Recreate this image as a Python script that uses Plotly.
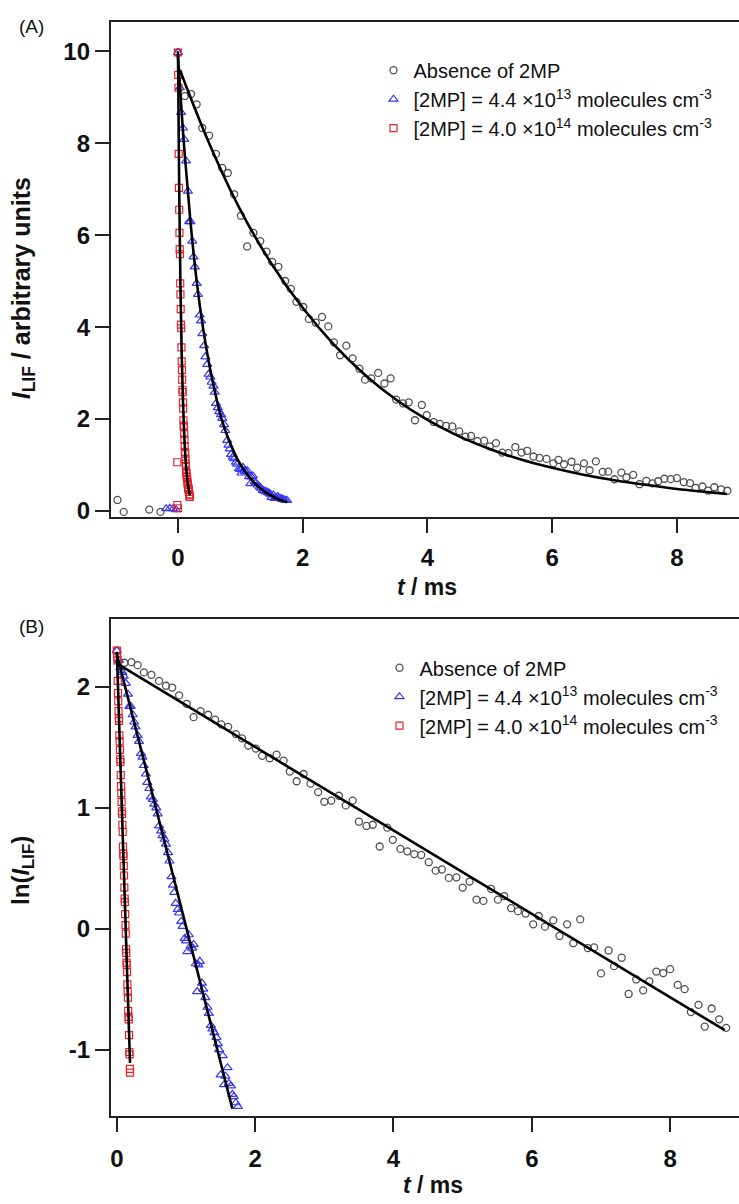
import numpy as np
import plotly.graph_objects as go

# ---------------- data: ln(I_LIF) vs t (ms) ----------------
circ_t = [0.00, 0.11, 0.21, 0.30, 0.39, 0.50, 0.61, 0.71, 0.80, 0.90, 1.01, 1.11, 1.21, 1.32, 1.42,
          1.51, 1.61, 1.72, 1.81, 1.90, 2.01, 2.10, 2.21, 2.31, 2.41, 2.50, 2.60, 2.70, 2.80, 2.91,
          3.00, 3.10, 3.21, 3.31, 3.41, 3.50, 3.61, 3.70, 3.80, 3.91, 3.99, 4.10, 4.20, 4.30, 4.40,
          4.51, 4.61, 4.70, 4.80, 4.91, 5.00, 5.10, 5.20, 5.30, 5.41, 5.51, 5.60, 5.70, 5.80, 5.91,
          6.02, 6.10, 6.19, 6.31, 6.40, 6.51, 6.60, 6.70, 6.81, 6.90, 7.00, 7.11, 7.19, 7.30, 7.40,
          7.51, 7.61, 7.70, 7.80, 7.90, 8.00, 8.11, 8.21, 8.30, 8.41, 8.50, 8.60, 8.71, 8.81]
circ_ln = [2.30, 2.20, 2.205, 2.18, 2.12, 2.10, 2.05, 2.01, 1.995, 1.93, 1.86, 1.75, 1.80, 1.77, 1.73,
           1.69, 1.67, 1.61, 1.575, 1.515, 1.49, 1.43, 1.41, 1.44, 1.39, 1.30, 1.22, 1.28, 1.20, 1.13,
           1.05, 1.06, 1.10, 1.02, 1.06, 0.885, 0.85, 0.86, 0.68, 0.836, 0.735, 0.66, 0.64, 0.617, 0.61,
           0.55, 0.48, 0.49, 0.42, 0.425, 0.34, 0.39, 0.24, 0.23, 0.33, 0.24, 0.27, 0.17, 0.145, 0.125,
           0.036, 0.105, 0.017, 0.069, -0.06, 0.036, -0.12, 0.077, -0.16, -0.155, -0.37, -0.18, -0.31, -0.24, -0.54,
           -0.42, -0.51, -0.435, -0.355, -0.367, -0.335, -0.465, -0.50, -0.69, -0.63, -0.81, -0.66, -0.75, -0.82]

tri_t = [0.00, 0.03, 0.05, 0.08, 0.10, 0.13, 0.16, 0.18, 0.20, 0.23, 0.25, 0.27, 0.30, 0.32, 0.35,
         0.37, 0.39, 0.42, 0.44, 0.47, 0.49, 0.52, 0.54, 0.57, 0.59, 0.61, 0.64, 0.66, 0.69, 0.71,
         0.74, 0.76, 0.79, 0.81, 0.83, 0.85, 0.88, 0.90, 0.93, 0.95, 0.98, 1.00, 1.02, 1.04, 1.07,
         1.09, 1.11, 1.14, 1.16, 1.18, 1.20, 1.23, 1.25, 1.28, 1.31, 1.33, 1.36, 1.38, 1.41, 1.44,
         1.46, 1.48, 1.50, 1.53, 1.55, 1.57, 1.60, 1.62, 1.65, 1.67, 1.69, 1.72, 1.75]
tri_ln = [2.30, 2.22, 2.16, 2.12, 2.09, 2.03, 1.94, 1.84, 1.84, 1.77, 1.71, 1.67, 1.60, 1.55, 1.45,
          1.42, 1.35, 1.28, 1.21, 1.16, 1.09, 1.07, 1.03, 1.00, 0.95, 0.85, 0.81, 0.77, 0.74, 0.70,
          0.63, 0.56, 0.43, 0.36, 0.30, 0.21, 0.16, 0.13, 0.06, 0.02, -0.08, -0.10, -0.19, -0.05, -0.14,
          -0.16, -0.13, -0.29, -0.52, -0.30, -0.27, -0.45, -0.50, -0.57, -0.65, -0.70, -0.80, -0.83, -0.86, -0.90,
          -0.95, -1.00, -1.21, -1.05, -1.29, -1.22, -1.15, -1.28, -1.30, -1.37, -1.39, -1.44, -1.47]

sq_t = [0.000, 0.004, 0.008, 0.012, 0.016, 0.020, 0.024, 0.028, 0.032, 0.036, 0.040, 0.044, 0.048,
        0.052, 0.056, 0.060, 0.064, 0.068, 0.072, 0.076, 0.080, 0.084, 0.088, 0.092, 0.096, 0.100,
        0.104, 0.108, 0.112, 0.116, 0.120, 0.124, 0.128, 0.132, 0.136, 0.140, 0.144, 0.148, 0.152,
        0.156, 0.160, 0.164, 0.168, 0.172, 0.176, 0.180, 0.184, 0.188, 0.190]
sq_ln = [2.30, 2.25, 2.22, 2.05, 1.95, 1.88, 1.80, 1.74, 1.72, 1.60, 1.55, 1.48, 1.40,
         1.38, 1.27, 1.18, 1.12, 1.05, 0.97, 0.95, 0.86, 0.80, 0.68, 0.62, 0.60, 0.52,
         0.44, 0.34, 0.25, 0.22, 0.12, 0.03, -0.04, -0.17, -0.20, -0.28, -0.30, -0.36, -0.46,
         -0.52, -0.57, -0.68, -0.73, -0.75, -0.88, -1.02, -1.04, -1.16, -1.19]

# pre-trigger points visible only in panel (A): t (ms), I_LIF
circ_pre_t = [-0.97, -0.87, -0.46, -0.28]
circ_pre_I = [0.24, -0.02, 0.03, -0.02]
tri_pre_t = [-0.19, -0.13, -0.08, -0.03]
tri_pre_I = [0.05, 0.06, 0.05, 0.03]
sq_pre_t = [-0.01, 0.00, -0.01]
sq_pre_I = [0.13, 0.06, 1.06]

# fitted curves, panel (A)
fitA_circ_t = [0.03, 0.5, 1.0, 1.5, 2.0, 2.5, 3.0, 3.5, 4.0, 4.5, 5.0, 5.5, 6.0, 6.5, 7.0, 7.5, 8.0, 8.5, 8.8]
fitA_circ_I = [9.6, 8.0, 6.55, 5.38, 4.42, 3.62, 2.96, 2.42, 1.98, 1.63, 1.35, 1.12, 0.94, 0.79, 0.67, 0.57, 0.48, 0.41, 0.37]
fitA_tri_t = [0.0, 0.1, 0.2, 0.3, 0.4, 0.5, 0.6, 0.7, 0.8, 0.9, 1.0, 1.2, 1.4, 1.6, 1.75]
fitA_tri_I = [9.9, 7.9, 6.3, 5.0, 4.0, 3.2, 2.55, 2.0, 1.6, 1.28, 1.02, 0.65, 0.41, 0.26, 0.19]
fitA_sq_t = [0.0, 0.02, 0.04, 0.06, 0.08, 0.10, 0.12, 0.14, 0.16, 0.19]
fitA_sq_I = [10.0, 7.0, 4.9, 3.4, 2.4, 1.68, 1.17, 0.82, 0.57, 0.34]

# fitted lines, panel (B)
fitB_circ_t = [0.01, 8.79]
fitB_circ_ln = [2.19, -0.84]
fitB_tri_t = [0.0, 1.67]
fitB_tri_ln = [2.27, -1.49]
fitB_sq_t = [0.0, 0.19]
fitB_sq_ln = [2.29, -1.11]

names = ["Absence of 2MP",
         "[2MP] = 4.4 \u00d710<sup>13</sup> molecules cm<sup>-3</sup>",
         "[2MP] = 4.0 \u00d710<sup>14</sup> molecules cm<sup>-3</sup>"]

C_CIRC = "rgb(80,80,80)"
C_TRI = "rgb(55,55,245)"
C_SQ = "rgb(235,35,40)"
FONT = "Arial, Liberation Sans, sans-serif"

W, H = 739, 1204
def px(x):
    return x / W
def py(y):
    return 1 - y / H

fig = go.Figure()

# ---------- panel A ----------
topI_circ = circ_pre_I + list(np.exp(circ_ln))
topI_tri = tri_pre_I + list(np.exp(tri_ln))
topI_sq = sq_pre_I + list(np.exp(sq_ln))

fig.add_trace(go.Scatter(x=circ_pre_t + circ_t, y=topI_circ, mode="markers", name=names[0],
                         marker=dict(symbol="circle-open", color=C_CIRC, size=7, line=dict(width=1.3)),
                         xaxis="x", yaxis="y", legend="legend"))
fig.add_trace(go.Scatter(x=tri_pre_t + tri_t, y=topI_tri, mode="markers", name=names[1],
                         marker=dict(symbol="triangle-up-open", color=C_TRI, size=8, line=dict(width=1.2)),
                         xaxis="x", yaxis="y", legend="legend"))
fig.add_trace(go.Scatter(x=sq_pre_t + sq_t, y=topI_sq, mode="markers", name=names[2],
                         marker=dict(symbol="square-open", color=C_SQ, size=7, line=dict(width=1.2)),
                         xaxis="x", yaxis="y", legend="legend"))
for ft, fy in [(fitA_circ_t, fitA_circ_I), (fitA_tri_t, fitA_tri_I), (fitA_sq_t, fitA_sq_I)]:
    fig.add_trace(go.Scatter(x=ft, y=fy, mode="lines", line=dict(color="black", width=2.6, shape="spline"),
                             showlegend=False, xaxis="x", yaxis="y", hoverinfo="skip"))

# ---------- panel B ----------
fig.add_trace(go.Scatter(x=circ_t, y=circ_ln, mode="markers", name=names[0],
                         marker=dict(symbol="circle-open", color=C_CIRC, size=7, line=dict(width=1.3)),
                         xaxis="x2", yaxis="y2", legend="legend2"))
fig.add_trace(go.Scatter(x=tri_t, y=tri_ln, mode="markers", name=names[1],
                         marker=dict(symbol="triangle-up-open", color=C_TRI, size=8, line=dict(width=1.2)),
                         xaxis="x2", yaxis="y2", legend="legend2"))
fig.add_trace(go.Scatter(x=sq_t, y=sq_ln, mode="markers", name=names[2],
                         marker=dict(symbol="square-open", color=C_SQ, size=7, line=dict(width=1.2)),
                         xaxis="x2", yaxis="y2", legend="legend2"))
for ft, fy in [(fitB_circ_t, fitB_circ_ln), (fitB_tri_t, fitB_tri_ln), (fitB_sq_t, fitB_sq_ln)]:
    fig.add_trace(go.Scatter(x=ft, y=fy, mode="lines", line=dict(color="black", width=2.6),
                             showlegend=False, xaxis="x2", yaxis="y2", hoverinfo="skip"))

axis_common = dict(showline=True, linewidth=2, linecolor="#222", ticks="outside", ticklen=14,
                   tickwidth=2, tickcolor="#222", showgrid=False, zeroline=False,
                   tickfont=dict(family=FONT, size=24, color="#111"))

xt = [0, 2, 4, 6, 8]
fig.update_layout(
    width=W, height=H, margin=dict(l=0, r=0, t=0, b=0),
    paper_bgcolor="white", plot_bgcolor="white",
    font=dict(family=FONT, color="#111"),
    xaxis=dict(domain=[px(110), 1.0], range=[-1.076, 8.996], anchor="y", mirror=True,
               tickvals=xt, ticktext=[f"<b>{v}</b>" for v in xt], ticklabelstandoff=4, **axis_common),
    yaxis=dict(domain=[py(520), py(22)], range=[-0.13, 10.64], anchor="x",
               tickvals=[0, 2, 4, 6, 8, 10], ticktext=[f"<b>{v}</b>" for v in [0, 2, 4, 6, 8, 10]],
               **axis_common),
    xaxis2=dict(domain=[px(110), 1.0], range=[-0.087, 8.996], anchor="y2", mirror=True,
                tickvals=xt, ticktext=[f"<b>{v}</b>" for v in xt], ticklabelstandoff=6, **axis_common),
    yaxis2=dict(domain=[py(1122.7), py(623)], range=[-1.551, 2.559], anchor="x2",
                tickvals=[-1, 0, 1, 2], ticktext=[f"<b>{v}</b>" for v in [-1, 0, 1, 2]],
                **axis_common),
    legend=dict(x=px(373), y=py(51), xanchor="left", yanchor="top", bgcolor="rgba(0,0,0,0)",
                font=dict(family=FONT, size=20, color="#111"), tracegroupgap=0, itemwidth=30),
    legend2=dict(x=px(379), y=py(652), xanchor="left", yanchor="top", bgcolor="rgba(0,0,0,0)",
                 font=dict(family=FONT, size=20, color="#111"), tracegroupgap=0, itemwidth=30),
    showlegend=True,
)

ann = [
    dict(text="(A)", x=px(16), y=py(27), xanchor="left", yanchor="middle", font=dict(size=19)),
    dict(text="(B)", x=px(16), y=py(630), xanchor="left", yanchor="middle", font=dict(size=19)),
    dict(text="<b><i>I</i><sub>LIF</sub> / arbitrary units</b>", x=px(22), y=py(290), textangle=-90,
         xanchor="center", yanchor="middle", font=dict(size=25)),
    dict(text="<b>ln(<i>I</i><sub>LIF</sub>)</b>", x=px(22), y=py(875), textangle=-90,
         xanchor="center", yanchor="middle", font=dict(size=24)),
    dict(text="<b><i>t</i> / ms</b>", x=px(427), y=py(590), xanchor="center", yanchor="middle",
         font=dict(size=23)),
    dict(text="<b><i>t</i> / ms</b>", x=px(433), y=py(1192), xanchor="center", yanchor="middle",
         font=dict(size=23)),
]
for a in ann:
    a.update(xref="paper", yref="paper", showarrow=False)
    a["font"] = dict(family=FONT, color="#111", **a["font"])
fig.update_layout(annotations=ann)

fig.write_html("out.html")
